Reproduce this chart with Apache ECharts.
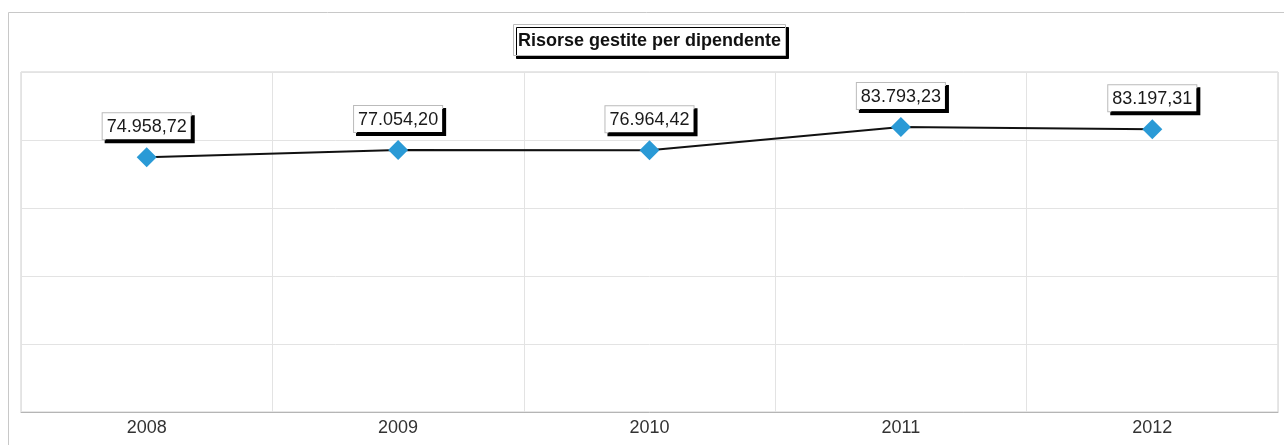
<!DOCTYPE html>
<html>
<head>
<meta charset="utf-8">
<script src="https://cdn.jsdelivr.net/npm/echarts@6/dist/echarts.min.js"></script>
<style>
  html, body { margin: 0; padding: 0; background: #fff; }
</style>
</head>
<body>
<div id="chart" style="width:1284px;height:445px"></div>
<script>
const anni = ['2008', '2009', '2010', '2011', '2012']
const risorse = [74958.72, 77054.20, 76964.42, 83793.23, 83197.31]

// formato italiano: 74.958,72
function formatIt(v) {
  const parts = v.toFixed(2).split('.')
  const intero = parts[0].replace(/\B(?=(\d{3})+(?!\d))/g, '.')
  return intero + ',' + parts[1]
}

const myChart = echarts.init(document.getElementById('chart'))
const option = {
  backgroundColor: '#fff',
  animation: false,
  title: {
    text: 'Risorse gestite per dipendente',
    left: 513,
    top: 24,
    padding: [8, 5, 6, 5],
    backgroundColor: '#fff',
    borderColor: '#bbb',
    borderWidth: 1,
    shadowColor: '#000',
    shadowBlur: 0,
    shadowOffsetX: 3,
    shadowOffsetY: 3,
    textStyle: {
      fontFamily: 'Liberation Sans, Arial',
      fontSize: 18,
      fontWeight: 'bold',
      color: '#111'
    }
  },
  graphic: [
    {
      type: 'rect',
      shape: { x: 8.5, y: 12.5, width: 1290, height: 450 },
      style: { fill: 'none', stroke: '#c8c8c8', lineWidth: 1 },
      z: -1
    }
  ],
  grid: {
    left: 21,
    right: 6,
    top: 72,
    bottom: 33,
    show: true,
    borderColor: '#cfcfcf',
    borderWidth: 1
  },
  xAxis: {
    type: 'category',
    data: anni,
    boundaryGap: true,
    axisLine: { lineStyle: { color: '#b5b5b5' } },
    axisTick: { show: false },
    axisLabel: {
      fontFamily: 'Liberation Sans, Arial',
      fontSize: 18,
      color: '#333',
      margin: 7
    },
    splitLine: { show: true, lineStyle: { color: '#e3e3e3' } }
  },
  yAxis: {
    type: 'value',
    min: 0,
    max: 100000,
    interval: 20000,
    axisLine: { show: false },
    axisTick: { show: false },
    axisLabel: { show: false },
    splitLine: { lineStyle: { color: '#e3e3e3' } }
  },
  series: [
    {
      type: 'line',
      data: risorse,
      symbol: 'diamond',
      symbolSize: 20,
      itemStyle: { color: '#2a9ad6' },
      lineStyle: { color: '#111', width: 2 },
      label: {
        show: true,
        position: 'top',
        distance: 8,
        formatter: p => formatIt(p.value),
        fontFamily: 'Liberation Sans, Arial',
        fontSize: 18,
        color: '#1a1a1a',
        backgroundColor: '#fff',
        borderColor: '#bbb',
        borderWidth: 1,
        padding: [5, 4, 3, 4],
        shadowColor: '#000',
        shadowBlur: 0,
        shadowOffsetX: 3,
        shadowOffsetY: 3
      },
      z: 3
    }
  ]
}

option && myChart.setOption(option)
</script>
</body>
</html>
